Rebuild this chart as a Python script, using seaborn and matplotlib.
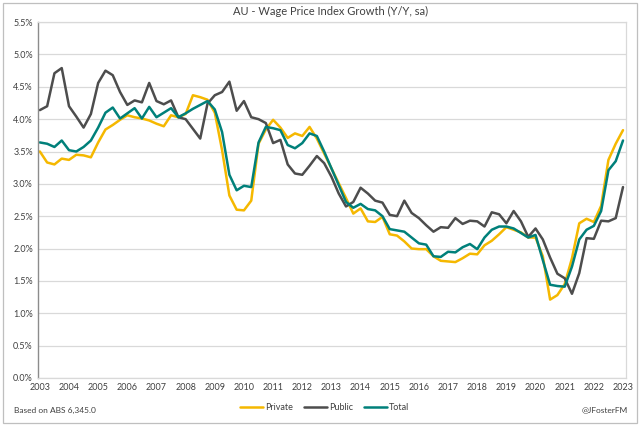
import numpy as np
import pandas as pd
import matplotlib
matplotlib.use("Agg")
import matplotlib.pyplot as plt
import seaborn as sns
from matplotlib.patches import Rectangle

# Quarterly WPI growth, % y/y, Mar-2003 .. Mar-2023
private = [3.50, 3.33, 3.30, 3.39, 3.37, 3.45, 3.44, 3.41, 3.64, 3.84,
           3.91, 3.99, 4.06, 4.03, 4.01, 3.98, 3.93, 3.89, 4.06, 4.03,
           4.08, 4.37, 4.34, 4.30, 4.10, 3.52, 2.82, 2.60, 2.59, 2.74,
           3.62, 3.84, 3.99, 3.87, 3.71, 3.78, 3.74, 3.88, 3.70, 3.47,
           3.24, 3.01, 2.78, 2.54, 2.62, 2.42, 2.41, 2.49, 2.22, 2.20,
           2.11, 2.00, 1.99, 1.99, 1.88, 1.81, 1.80, 1.79, 1.85, 1.92,
           1.91, 2.05, 2.12, 2.22, 2.33, 2.29, 2.25, 2.17, 2.17, 1.88,
           1.21, 1.28, 1.45, 1.85, 2.39, 2.46, 2.41, 2.66, 3.37, 3.62, 3.83]
public = [4.14, 4.20, 4.71, 4.79, 4.20, 4.04, 3.87, 4.08, 4.56, 4.75,
          4.68, 4.42, 4.22, 4.29, 4.26, 4.56, 4.28, 4.23, 4.29, 4.03,
          4.00, 3.85, 3.70, 4.24, 4.37, 4.42, 4.58, 4.13, 4.28, 4.03,
          4.00, 3.94, 3.63, 3.68, 3.30, 3.16, 3.14, 3.28, 3.43, 3.32,
          3.11, 2.85, 2.65, 2.72, 2.94, 2.85, 2.74, 2.71, 2.52, 2.50,
          2.74, 2.55, 2.47, 2.36, 2.26, 2.33, 2.32, 2.47, 2.38, 2.43,
          2.42, 2.34, 2.56, 2.53, 2.39, 2.58, 2.42, 2.18, 2.31, 2.14,
          1.86, 1.61, 1.54, 1.30, 1.62, 2.16, 2.15, 2.43, 2.42, 2.47, 2.95]
total = [3.64, 3.62, 3.57, 3.67, 3.52, 3.50, 3.57, 3.67, 3.87, 4.10,
         4.18, 4.01, 4.09, 4.17, 4.01, 4.19, 4.03, 4.10, 4.17, 4.03,
         4.09, 4.16, 4.22, 4.28, 4.15, 3.80, 3.14, 2.90, 2.97, 2.95,
         3.64, 3.88, 3.86, 3.83, 3.60, 3.55, 3.63, 3.78, 3.74, 3.50,
         3.24, 2.98, 2.72, 2.63, 2.69, 2.61, 2.59, 2.50, 2.30, 2.28,
         2.26, 2.17, 2.08, 2.06, 1.88, 1.87, 1.95, 1.94, 2.02, 2.07,
         1.99, 2.17, 2.29, 2.34, 2.34, 2.31, 2.24, 2.17, 2.21, 1.82,
         1.44, 1.42, 1.41, 1.72, 2.14, 2.29, 2.35, 2.58, 3.21, 3.35, 3.67]
years = list(range(2003, 2024))
series_names = ["Private", "Public", "Total"]
colors = {"Private": "#F5B800", "Public": "#4D4D4D", "Total": "#00807A"}

quarters = 2003 + np.arange(len(total)) / 4
df = pd.DataFrame({"date": quarters, "Private": private, "Public": public, "Total": total})
long = df.melt(id_vars="date", var_name="series", value_name="growth")

sns.set_theme(style="white")
plt.rcParams["font.family"] = ["Lato", "DejaVu Sans"]

fig = plt.figure(figsize=(6.4, 4.26), dpi=100)
ax = fig.add_axes([0.060, 0.113, 0.918, 0.835])

sns.lineplot(data=long, x="date", y="growth", hue="series", hue_order=series_names,
             palette=colors, linewidth=1.8, ax=ax)

ax.set_xlim(2002.95, 2023.1)
ax.set_ylim(0, 5.5)
ax.set_yticks(np.arange(0, 5.51, 0.5))
ax.set_yticklabels([f"{v:.1f}%" for v in np.arange(0, 5.51, 0.5)])
ax.set_xticks(years)
ax.set_xticklabels([str(y) for y in years])
ax.tick_params(axis="both", labelsize=6.5, colors="#404040", length=0, pad=4)
ax.set_xlabel("")
ax.set_ylabel("")
ax.yaxis.grid(True, color="#D9D9D9", linewidth=0.9)
ax.set_axisbelow(True)
for side in ["top", "right", "bottom"]:
    ax.spines[side].set_color("#D9D9D9")
    ax.spines[side].set_linewidth(0.9)
ax.spines["left"].set_color("#8C8C8C")
ax.spines["left"].set_linewidth(1.0)

fig.text(0.516, 0.972, "AU - Wage Price Index Growth (Y/Y, sa)", ha="center", va="center",
         fontsize=8, color="#404040")
fig.text(0.022, 0.037, "Based on ABS 6,345.0", ha="left", va="center", fontsize=6, color="#404040")
fig.text(0.981, 0.037, "@JFosterFM", ha="right", va="center", fontsize=6, color="#404040")

handles, labels = ax.get_legend_handles_labels()
ax.get_legend().remove()
leg = fig.legend(handles, labels, loc="center", bbox_to_anchor=(0.507, 0.043), ncol=3,
                 frameon=False, fontsize=6.5, handlelength=2.6, handletextpad=0.2,
                 columnspacing=1.2, labelcolor="#404040")

fig.patches.append(Rectangle((0.004, 0.006), 0.991, 0.988, transform=fig.transFigure,
                             fill=False, edgecolor="#BFBFBF", linewidth=0.9))

fig.savefig("out.png", dpi=100)
